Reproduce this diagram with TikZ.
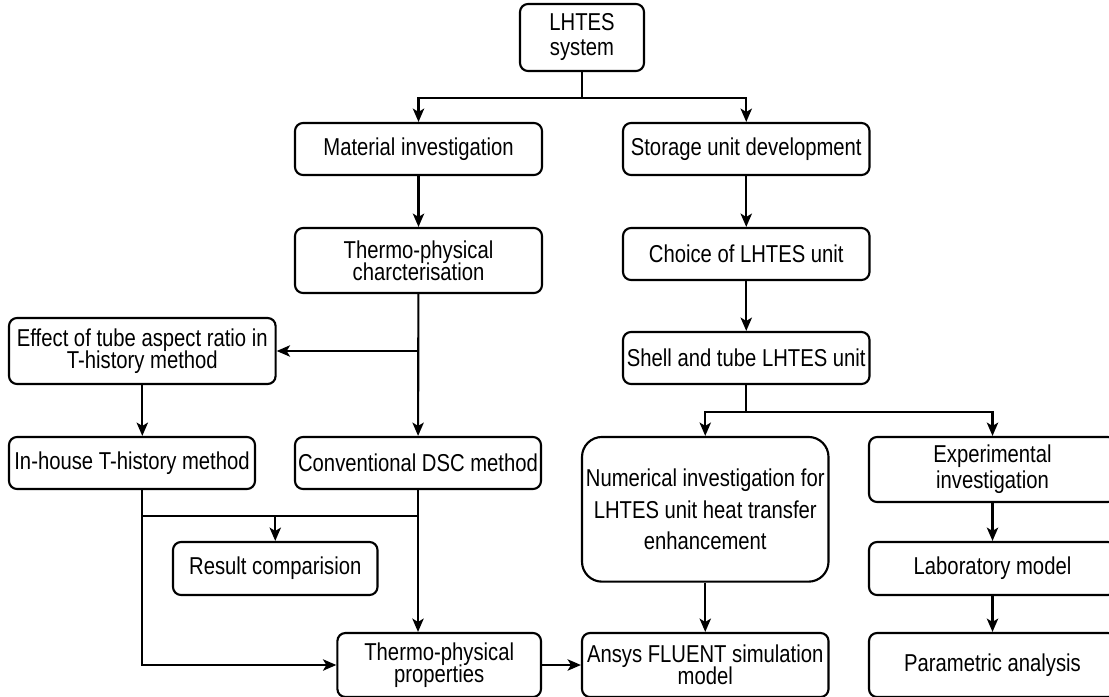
\documentclass[tikz,border=0pt]{standalone}
\usepackage{fontspec}
\setmainfont{Liberation Sans}[FakeStretch=0.83]
\usepackage{tikz}
\usetikzlibrary{arrows,arrows.meta,shapes,calc}
\lineskiplimit=-50pt
\newcommand{\px}{0.75pt}

\begin{document}
\begin{tikzpicture}[x=\px,y=-\px]
             \tikzstyle{block}=[draw,line width=1.6pt,rounded corners=6pt,align=center,inner sep=1pt,font=\fontsize{18.3pt}{18.75pt}\selectfont]
             \tikzstyle{tight}=[font=\fontsize{18.3pt}{16.5pt}\selectfont]
             \tikzstyle{loose}=[font=\fontsize{18.3pt}{23.6pt}\selectfont]
             \tikzstyle{wire}=[line width=1.6pt]
             \tikzstyle{flow}=[line width=1.6pt,-{Stealth[length=10pt,width=8.5pt,inset=2.5pt]}]
            \useasboundingbox (0,0) rectangle (1109,696);
            \clip (0,0) rectangle (1109,696);
            % top
            \node [block] (lhtes) [minimum width=124*\px, minimum height=67*\px] at (582,37.5) {LHTES\\system};
            \node [block] (matinv) [minimum width=247*\px, minimum height=52*\px] at (418.5,149) {Material investigation};
            \node [block] (storage) [minimum width=246.5*\px, minimum height=52*\px] at (746.25,149) {Storage unit development};
            % material side
            \node [block,tight] (thermochar) [minimum width=247*\px, minimum height=65*\px] at (418.5,260.5) {Thermo-physical\\charcterisation};
            \node [block,tight] (effect) [minimum width=266.6*\px, minimum height=66*\px] at (142.3,351) {Effect of tube aspect ratio in\\T-history method};
            \node [block] (inhouse) [minimum width=246*\px, minimum height=52*\px] at (132,463) {In-house T-history method};
            \node [block] (conv) [minimum width=246*\px, minimum height=52*\px] at (418,463) {Conventional DSC method};
            \node [block] (result) [minimum width=204.5*\px, minimum height=53*\px] at (275.25,568.5) {Result comparision};
            \node [block,tight] (props) [minimum width=203.6*\px, minimum height=64*\px] at (439.2,665) {Thermo-physical\\properties};
            % storage side
            \node [block] (choice) [minimum width=246.5*\px, minimum height=52*\px] at (746.25,254) {Choice of LHTES unit};
            \node [block] (shell) [minimum width=246.5*\px, minimum height=52*\px] at (746.25,358) {Shell and tube LHTES unit};
            \node [block,loose,rounded corners=15pt] (numer) [minimum width=246.5*\px, minimum height=144.7*\px] at (705.25,509.3) {Numerical investigation for\\LHTES unit heat transfer\\enhancement};
            \node [block,tight] (ansys) [minimum width=246.5*\px, minimum height=64*\px] at (705.25,665) {Ansys FLUENT simulation\\model};
            \node [block,font=\fontsize{18.3pt}{19.3pt}\selectfont] (exper) [minimum width=247*\px, minimum height=65*\px] at (992.5,469.5) {Experimental\\investigation};
            \node [block] (lab) [minimum width=247*\px, minimum height=53*\px] at (992.5,568.5) {Laboratory model};
            \node [block] (param) [minimum width=247*\px, minimum height=64*\px] at (992.5,665) {Parametric analysis};

            \draw [wire] (lhtes.south) -- ++(0,26) coordinate (split1);
            \draw [flow] (split1) -| (matinv);
            \draw [flow] (split1) -| (storage);
            \draw [flow] (matinv) -- (thermochar);
            \draw [flow] (thermochar) -- (conv);
            \draw [flow] (thermochar.south |- effect.east) -- (effect.east);
            \draw [flow] (effect.south) -- (effect.south |- inhouse.north);
            \coordinate (merge) at (275.25,516);
            \draw [wire] (effect.south |- inhouse.south) |- (conv.south |- merge);
            \draw [flow] (merge) -- (result);
            \draw [flow] (conv.south) -- (conv.south |- props.north);
            \draw [flow] (effect.south |- merge) |- (props);
            \draw [flow] (props) -- (ansys);

            \draw [flow] (storage) -- (choice);
            \draw [flow] (choice) -- (shell);
            \draw [wire] (shell.south) -- ++(0,26.7) coordinate (split2);
            \draw [flow] (split2) -| (numer);
            \draw [flow] (split2) -| (exper);
            \draw [flow] (numer) -- (ansys);
            \draw [flow] (exper) -- (lab);
            \draw [flow] (lab) -- (param);
         \end{tikzpicture}
\end{document}
